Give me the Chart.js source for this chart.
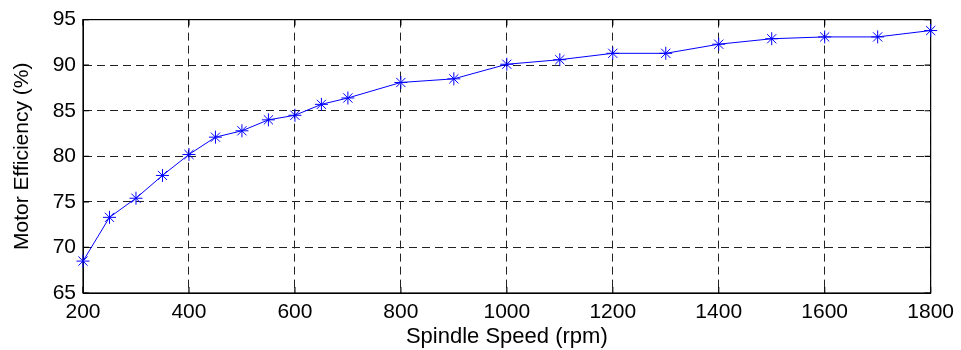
<!DOCTYPE html>
<html>
<head>
<meta charset="utf-8">
<script src="https://cdn.jsdelivr.net/npm/chart.js@4/dist/chart.umd.min.js"></script>
<style>
  html, body { margin: 0; padding: 0; background: #fff; }
  #wrap { width: 961px; height: 350px; }
</style>
</head>
<body>
<div id="wrap"><canvas id="effChart" width="961" height="350"></canvas></div>
<script>
// spindle speed (rpm) vs motor efficiency (%)
var speeds = [200, 250, 300, 350, 400, 450, 500, 550, 600, 650, 700, 800, 900, 1000, 1100, 1200, 1300, 1400, 1500, 1600, 1700, 1800];
var efficiency = [68.5, 73.3, 75.4, 77.9, 80.2, 82.1, 82.8, 84.0, 84.5, 85.7, 86.4, 88.1, 88.5, 90.1, 90.6, 91.3, 91.3, 92.3, 92.9, 93.1, 93.1, 93.8];
var xTicks = [200, 400, 600, 800, 1000, 1200, 1400, 1600, 1800];
var yTicks = [65, 70, 75, 80, 85, 90, 95];

var points = [];
for (var i = 0; i < speeds.length; i++) {
  points.push({x: speeds[i], y: efficiency[i]});
}

// box round the plot with small inward ticks, like matlab
var boxPlugin = {
  id: 'box',
  beforeDatasetsDraw: function (chart) {
    var ctx = chart.ctx, a = chart.chartArea;
    var xs = chart.scales.x, ys = chart.scales.y;
    ctx.save();
    ctx.strokeStyle = '#000';
    ctx.lineWidth = 1.2;
    ctx.strokeRect(a.left, a.top, a.right - a.left, a.bottom - a.top);
    ctx.beginPath();
    xTicks.forEach(function (v) {
      var px = xs.getPixelForValue(v);
      ctx.moveTo(px, a.bottom); ctx.lineTo(px, a.bottom - 6);
      ctx.moveTo(px, a.top); ctx.lineTo(px, a.top + 6);
    });
    yTicks.forEach(function (v) {
      var py = ys.getPixelForValue(v);
      ctx.moveTo(a.left, py); ctx.lineTo(a.left + 6, py);
      ctx.moveTo(a.right, py); ctx.lineTo(a.right - 6, py);
    });
    ctx.stroke();
    ctx.restore();
  }
};

var font = 'Liberation Sans, Arial, sans-serif';
function plain(v) { return String(v); }

new Chart(document.getElementById('effChart'), {
  type: 'line',
  data: {
    datasets: [{
      data: points,
      borderColor: '#0000ff',
      backgroundColor: '#0000ff',
      borderWidth: 1,
      pointStyle: 'star',
      pointRadius: 6.5,
      pointBorderWidth: 1,
      pointBorderColor: '#0000ff',
      fill: false,
      clip: false,
      tension: 0
    }]
  },
  options: {
    responsive: false,
    animation: false,
    layout: { padding: { top: 17, right: 26, left: 0, bottom: 0 } },
    plugins: { legend: { display: false }, tooltip: { enabled: false } },
    scales: {
      x: {
        type: 'linear',
        min: 200, max: 1800,
        afterBuildTicks: function (s) { s.ticks = xTicks.map(function (v) { return {value: v}; }); },
        afterFit: function (s) { s.height = 57; },
        grid: { color: '#222', lineWidth: 1, drawTicks: false },
        border: { display: true, color: '#000', dash: [8, 5] },
        ticks: { color: '#000', font: { family: font, size: 21 }, padding: 7, maxRotation: 0, callback: plain },
        title: { display: true, text: 'Spindle Speed (rpm)', color: '#000', font: { family: font, size: 22 }, padding: { top: 0, bottom: 0 } }
      },
      y: {
        min: 65, max: 95,
        afterBuildTicks: function (s) { s.ticks = yTicks.map(function (v) { return {value: v}; }); },
        afterFit: function (s) { s.width = 83; },
        grid: { color: '#222', lineWidth: 1, drawTicks: false },
        border: { display: true, color: '#000', dash: [8, 5] },
        ticks: { color: '#000', font: { family: font, size: 21 }, padding: 7, callback: plain },
        title: { display: true, text: 'Motor Efficiency (%)', color: '#000', font: { family: font, size: 21 }, padding: { top: 10, bottom: 0 } }
      }
    }
  },
  plugins: [boxPlugin]
});
</script>
</body>
</html>
